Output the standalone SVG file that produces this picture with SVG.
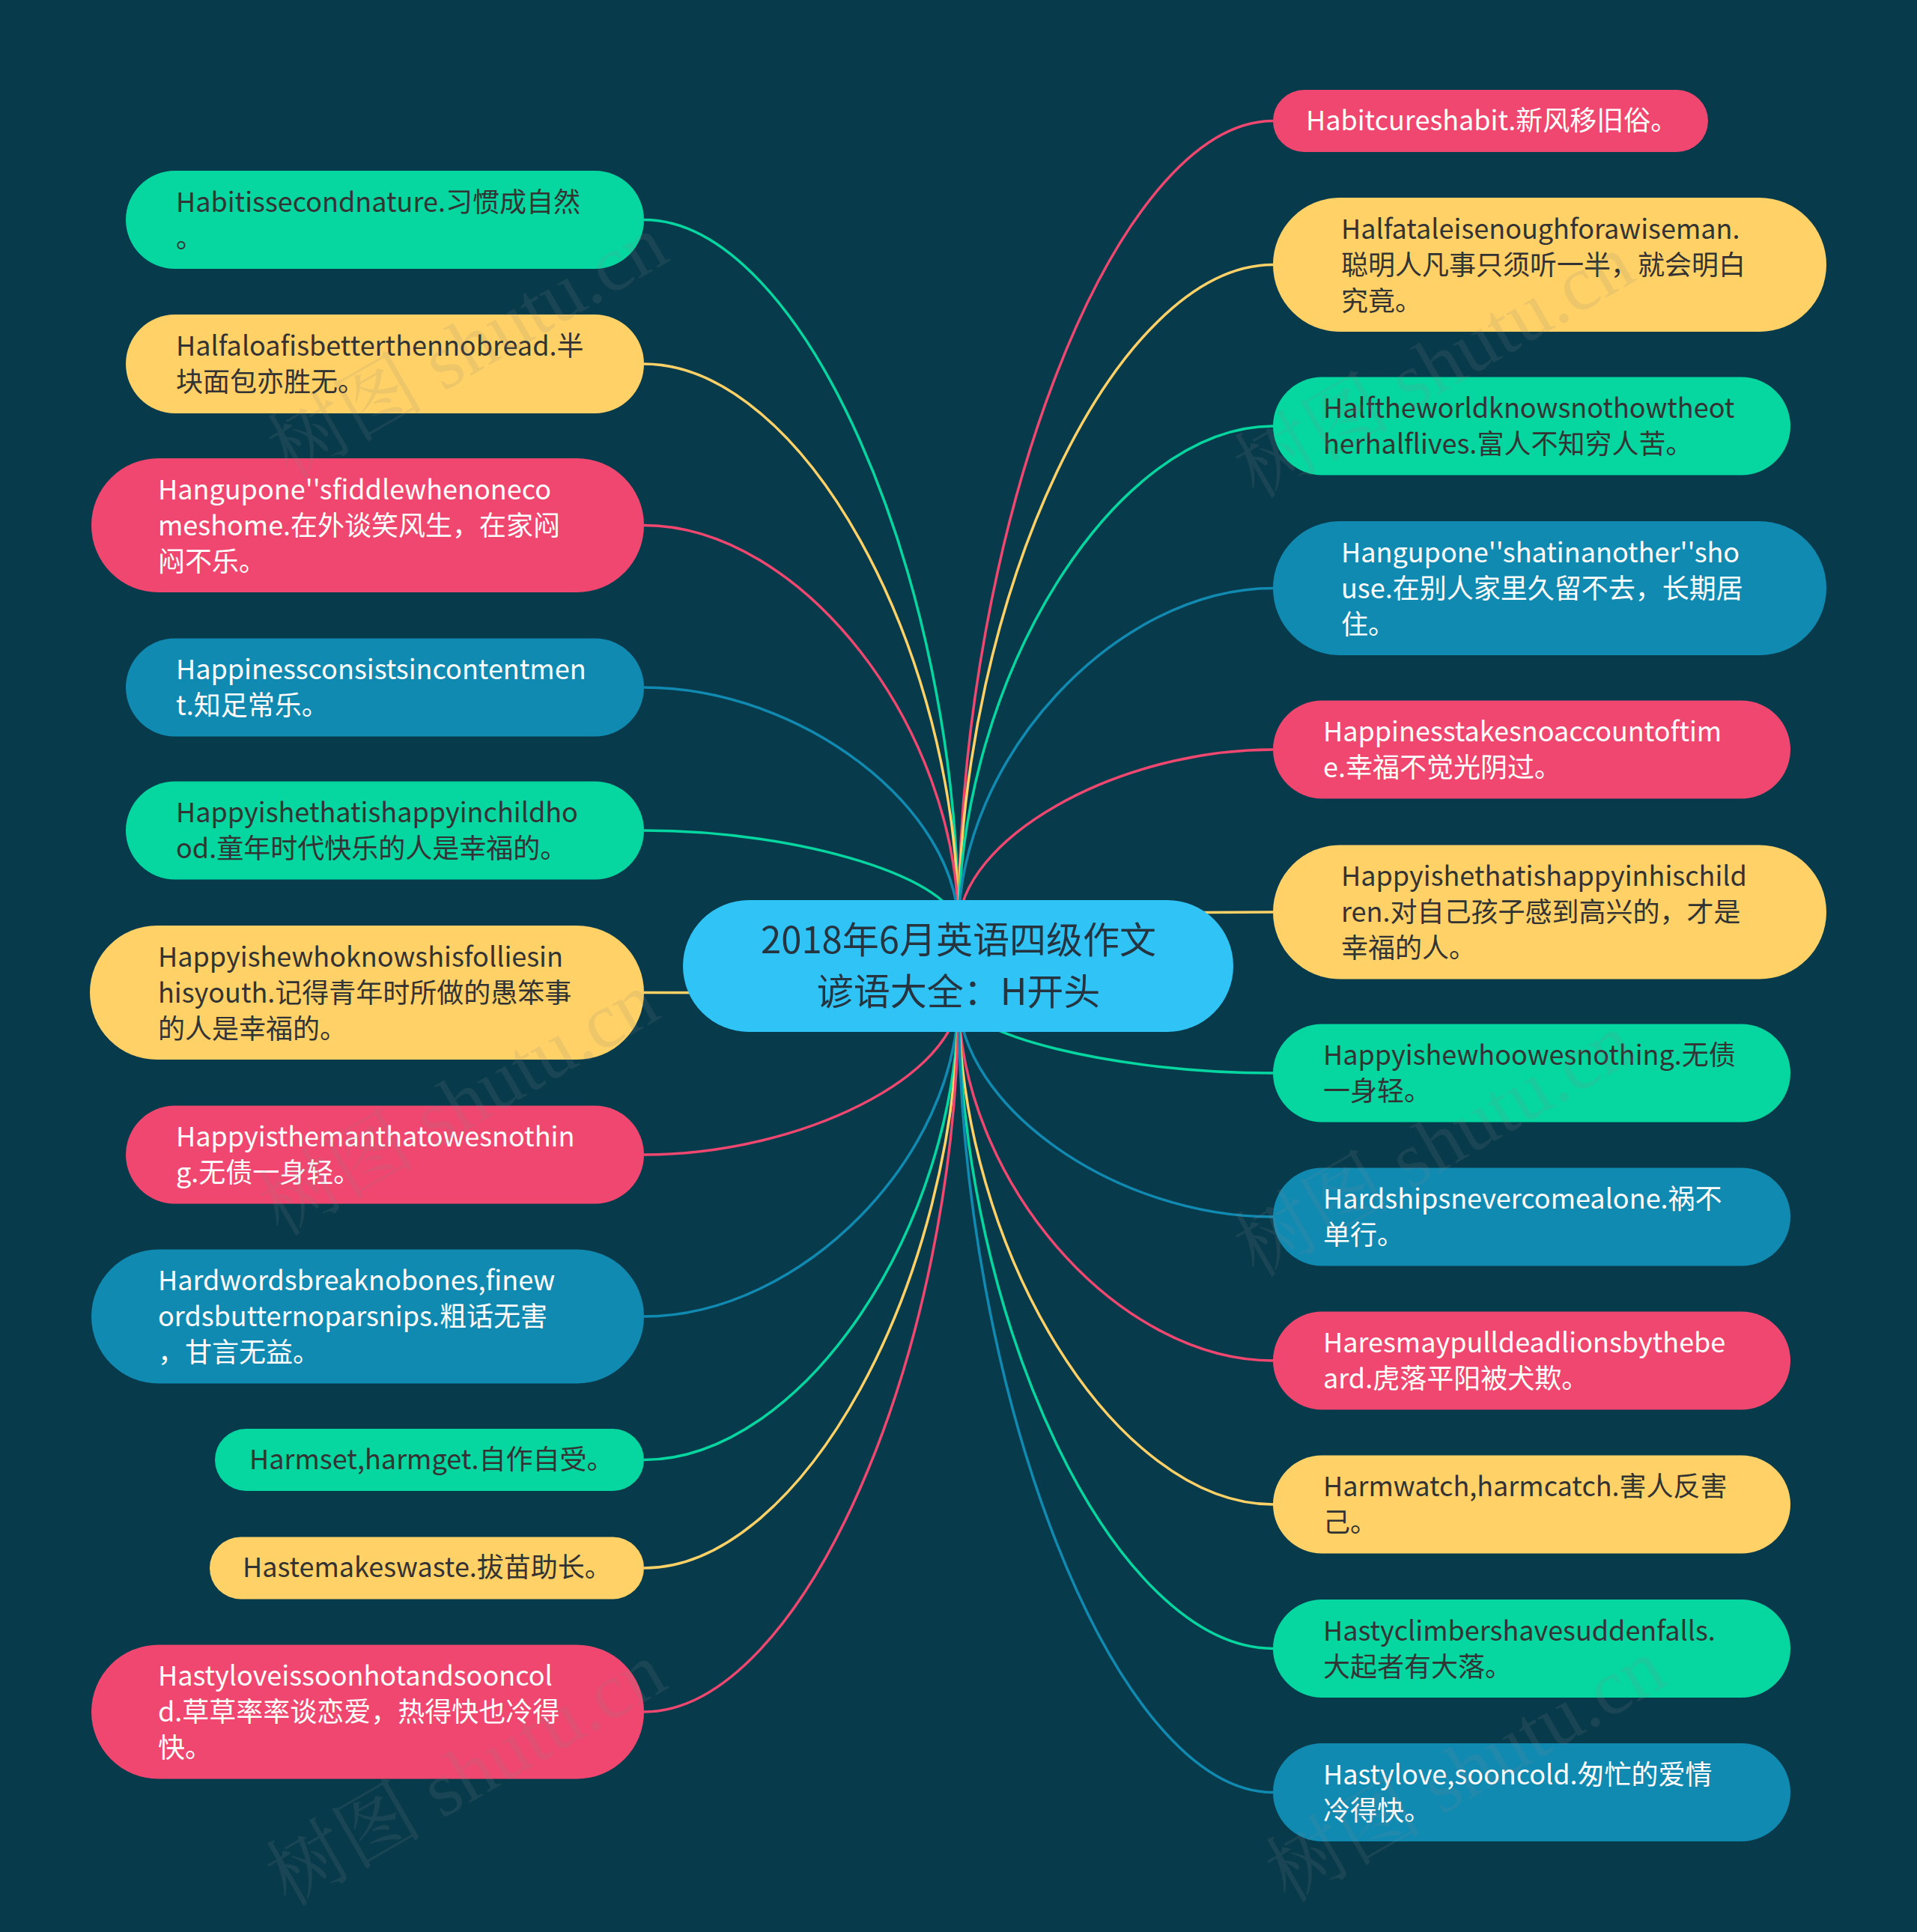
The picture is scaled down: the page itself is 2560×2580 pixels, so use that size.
<svg xmlns="http://www.w3.org/2000/svg" width="2560" height="2580" viewBox="0 0 2560 2580">
<style>
.t{font-family:"Noto Sans CJK SC","Noto Sans",sans-serif;font-size:36px}
.d{fill:#333333}
.w{fill:#ffffff}
.c{font-family:"Noto Sans CJK SC","Noto Sans",sans-serif;font-size:49px;fill:#263440;text-anchor:middle}
.g{fill:#06D6A0}
.y{fill:#FFD166}
.r{fill:#EF476F}
.b{fill:#118AB2}
.lg{stroke:#06D6A0}
.ly{stroke:#FFD166}
.lr{stroke:#EF476F}
.lb{stroke:#118AB2}
#connectors path{fill:none;stroke-width:3.5}
.wm{font-family:"Liberation Serif","Noto Serif CJK SC","Noto Sans CJK SC",serif;font-size:105px;fill:#8a8a8a;fill-opacity:0.14;text-anchor:middle}
</style>
<rect x="0" y="0" width="2560" height="2580" fill="#073B4C"/>
<g id="connectors">
<path class="lg" d="M1280 1240 C1280 766.75 1070 293.5 860 293.5"/>
<path class="ly" d="M1280 1240 C1280 863 1070 486 860 486"/>
<path class="lr" d="M1280 1240 C1280 970.75 1070 701.5 860 701.5"/>
<path class="lb" d="M1280 1240 C1280 1079 1070 918 860 918"/>
<path class="lg" d="M1280 1240 C1280 1174.5 1070 1109 860 1109"/>
<path class="ly" d="M1280 1330 C1280 1327.75 1070 1325.5 860 1325.5"/>
<path class="lr" d="M1280 1330 C1280 1436 1070 1542 860 1542"/>
<path class="lb" d="M1280 1330 C1280 1544 1070 1758 860 1758"/>
<path class="lg" d="M1280 1330 C1280 1639.75 1070 1949.5 860 1949.5"/>
<path class="ly" d="M1280 1330 C1280 1712 1070 2094 860 2094"/>
<path class="lr" d="M1280 1330 C1280 1808 1070 2286 860 2286"/>
<path class="lr" d="M1280 1240 C1280 700.75 1490 161.5 1700 161.5"/>
<path class="ly" d="M1280 1240 C1280 796.75 1490 353.5 1700 353.5"/>
<path class="lg" d="M1280 1240 C1280 904.5 1490 569 1700 569"/>
<path class="lb" d="M1280 1240 C1280 1012.75 1490 785.5 1700 785.5"/>
<path class="lr" d="M1280 1240 C1280 1120.5 1490 1001 1700 1001"/>
<path class="ly" d="M1280 1240 C1280 1229 1490 1218 1700 1218"/>
<path class="lg" d="M1280 1330 C1280 1381.5 1490 1433 1700 1433"/>
<path class="lb" d="M1280 1330 C1280 1477.5 1490 1625 1700 1625"/>
<path class="lr" d="M1280 1330 C1280 1573.5 1490 1817 1700 1817"/>
<path class="ly" d="M1280 1330 C1280 1669.5 1490 2009 1700 2009"/>
<path class="lg" d="M1280 1330 C1280 1765.75 1490 2201.5 1700 2201.5"/>
<path class="lb" d="M1280 1330 C1280 1861.75 1490 2393.5 1700 2393.5"/>
</g>
<g id="root">
<rect x="912" y="1202" width="735" height="176" rx="88" fill="#2FC4F5"/>
<text class="c"><tspan x="1280" y="1273">2018年6月英语四级作文</tspan><tspan x="1280" y="1342">谚语大全：H开头</tspan></text>
</g>
<g id="n-l1"><rect class="g" x="168" y="228" width="692" height="131" rx="65.5"/><text class="t d"><tspan x="235" y="282.5">Habitissecondnature.习惯成自然</tspan><tspan x="235" y="330.5">。</tspan></text></g>
<g id="n-l2"><rect class="y" x="168" y="420" width="692" height="132" rx="66"/><text class="t d"><tspan x="235" y="475">Halfaloafisbetterthennobread.半</tspan><tspan x="235" y="523">块面包亦胜无。</tspan></text></g>
<g id="n-l3"><rect class="r" x="122" y="612" width="738" height="179" rx="89.5"/><text class="t w"><tspan x="211" y="666.5">Hangupone''sfiddlewhenoneco</tspan><tspan x="211" y="714.5">meshome.在外谈笑风生，在家闷</tspan><tspan x="211" y="762.5">闷不乐。</tspan></text></g>
<g id="n-l4"><rect class="b" x="168" y="852.5" width="692" height="131" rx="65.5"/><text class="t w"><tspan x="235" y="907">Happinessconsistsincontentmen</tspan><tspan x="235" y="955">t.知足常乐。</tspan></text></g>
<g id="n-l5"><rect class="g" x="168" y="1043.5" width="692" height="131" rx="65.5"/><text class="t d"><tspan x="235" y="1098">Happyishethatishappyinchildho</tspan><tspan x="235" y="1146">od.童年时代快乐的人是幸福的。</tspan></text></g>
<g id="n-l6"><rect class="y" x="120" y="1236" width="740" height="179" rx="89.5"/><text class="t d"><tspan x="211" y="1290.5">Happyishewhoknowshisfolliesin</tspan><tspan x="211" y="1338.5">hisyouth.记得青年时所做的愚笨事</tspan><tspan x="211" y="1386.5">的人是幸福的。</tspan></text></g>
<g id="n-l7"><rect class="r" x="168" y="1476.5" width="692" height="131" rx="65.5"/><text class="t w"><tspan x="235" y="1531">Happyisthemanthatowesnothin</tspan><tspan x="235" y="1579">g.无债一身轻。</tspan></text></g>
<g id="n-l8"><rect class="b" x="122" y="1668.5" width="738" height="179" rx="89.5"/><text class="t w"><tspan x="211" y="1723">Hardwordsbreaknobones,finew</tspan><tspan x="211" y="1771">ordsbutternoparsnips.粗话无害</tspan><tspan x="211" y="1819">，甘言无益。</tspan></text></g>
<g id="n-l9"><rect class="g" x="287" y="1908" width="573" height="83" rx="41.5"/><text class="t d" x="333" y="1961.5">Harmset,harmget.自作自受。</text></g>
<g id="n-l10"><rect class="y" x="280" y="2052.5" width="580" height="83" rx="41.5"/><text class="t d" x="324" y="2106">Hastemakeswaste.拔苗助长。</text></g>
<g id="n-l11"><rect class="r" x="122" y="2196.5" width="738" height="179" rx="89.5"/><text class="t w"><tspan x="211" y="2251">Hastyloveissoonhotandsooncol</tspan><tspan x="211" y="2299">d.草草率率谈恋爱，热得快也冷得</tspan><tspan x="211" y="2347">快。</tspan></text></g>
<g id="n-r1"><rect class="r" x="1700" y="120" width="581" height="83" rx="41.5"/><text class="t w" x="1744" y="173.5">Habitcureshabit.新风移旧俗。</text></g>
<g id="n-r2"><rect class="y" x="1700" y="264" width="739" height="179" rx="89.5"/><text class="t d"><tspan x="1791" y="318.5">Halfataleisenoughforawiseman.</tspan><tspan x="1791" y="366.5">聪明人凡事只须听一半，就会明白</tspan><tspan x="1791" y="414.5">究竟。</tspan></text></g>
<g id="n-r3"><rect class="g" x="1700" y="503.5" width="691" height="131" rx="65.5"/><text class="t d"><tspan x="1767" y="558">Halftheworldknowsnothowtheot</tspan><tspan x="1767" y="606">herhalflives.富人不知穷人苦。</tspan></text></g>
<g id="n-r4"><rect class="b" x="1700" y="696" width="739" height="179" rx="89.5"/><text class="t w"><tspan x="1791" y="750.5">Hangupone''shatinanother''sho</tspan><tspan x="1791" y="798.5">use.在别人家里久留不去，长期居</tspan><tspan x="1791" y="846.5">住。</tspan></text></g>
<g id="n-r5"><rect class="r" x="1700" y="935.5" width="691" height="131" rx="65.5"/><text class="t w"><tspan x="1767" y="990">Happinesstakesnoaccountoftim</tspan><tspan x="1767" y="1038">e.幸福不觉光阴过。</tspan></text></g>
<g id="n-r6"><rect class="y" x="1700" y="1128.5" width="739" height="179" rx="89.5"/><text class="t d"><tspan x="1791" y="1183">Happyishethatishappyinhischild</tspan><tspan x="1791" y="1231">ren.对自己孩子感到高兴的，才是</tspan><tspan x="1791" y="1279">幸福的人。</tspan></text></g>
<g id="n-r7"><rect class="g" x="1700" y="1367.5" width="691" height="131" rx="65.5"/><text class="t d"><tspan x="1767" y="1422">Happyishewhoowesnothing.无债</tspan><tspan x="1767" y="1470">一身轻。</tspan></text></g>
<g id="n-r8"><rect class="b" x="1700" y="1559.5" width="691" height="131" rx="65.5"/><text class="t w"><tspan x="1767" y="1614">Hardshipsnevercomealone.祸不</tspan><tspan x="1767" y="1662">单行。</tspan></text></g>
<g id="n-r9"><rect class="r" x="1700" y="1751.5" width="691" height="131" rx="65.5"/><text class="t w"><tspan x="1767" y="1806">Haresmaypulldeadlionsbythebe</tspan><tspan x="1767" y="1854">ard.虎落平阳被犬欺。</tspan></text></g>
<g id="n-r10"><rect class="y" x="1700" y="1943.5" width="691" height="131" rx="65.5"/><text class="t d"><tspan x="1767" y="1998">Harmwatch,harmcatch.害人反害</tspan><tspan x="1767" y="2046">己。</tspan></text></g>
<g id="n-r11"><rect class="g" x="1700" y="2136" width="691" height="131" rx="65.5"/><text class="t d"><tspan x="1767" y="2190.5">Hastyclimbershavesuddenfalls.</tspan><tspan x="1767" y="2238.5">大起者有大落。</tspan></text></g>
<g id="n-r12"><rect class="b" x="1700" y="2328" width="691" height="131" rx="65.5"/><text class="t w"><tspan x="1767" y="2382.5">Hastylove,sooncold.匆忙的爱情</tspan><tspan x="1767" y="2430.5">冷得快。</tspan></text></g>
<g id="watermarks">
<text class="wm" transform="translate(642 494) rotate(-30)">树图 shutu.cn</text>
<text class="wm" transform="translate(630 1505) rotate(-30)">树图 shutu.cn</text>
<text class="wm" transform="translate(1933 520) rotate(-30)">树图 shutu.cn</text>
<text class="wm" transform="translate(1933 1560) rotate(-30)">树图 shutu.cn</text>
<text class="wm" transform="translate(640 2400) rotate(-30)">树图 shutu.cn</text>
<text class="wm" transform="translate(1975 2395) rotate(-30)">树图 shutu.cn</text>
</g>
</svg>
